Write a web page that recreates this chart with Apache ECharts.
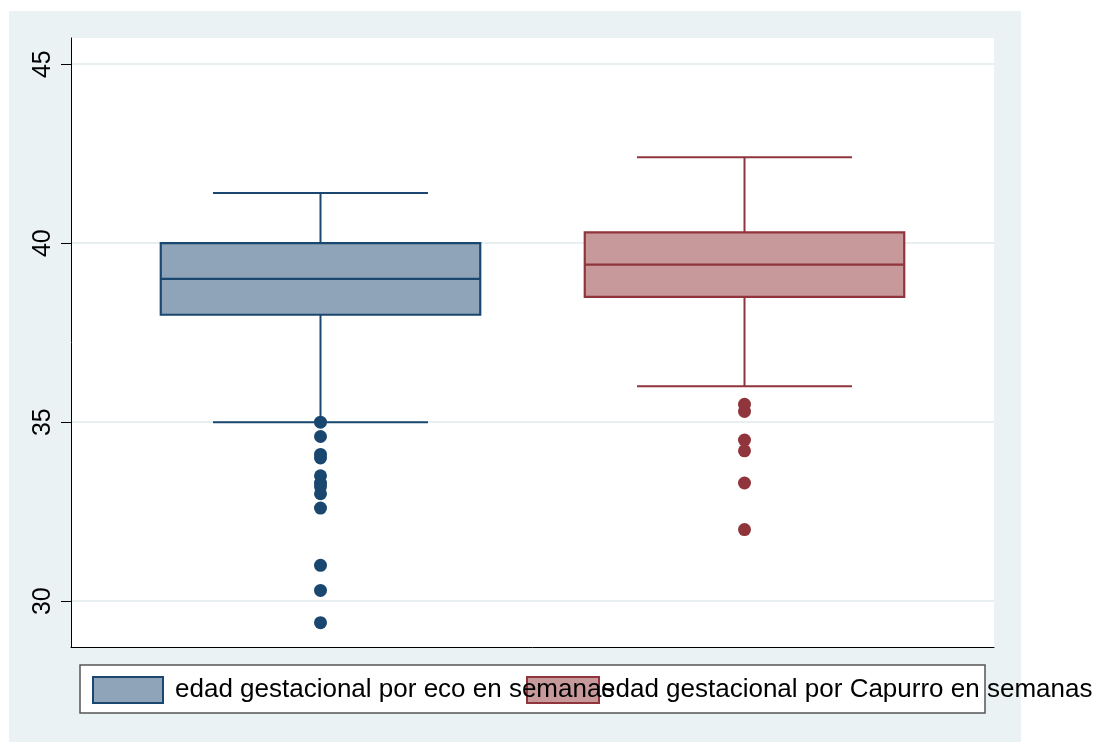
<!DOCTYPE html>
<html>
<head>
<meta charset="utf-8">
<script src="https://cdn.jsdelivr.net/npm/echarts@6/dist/echarts.min.js"></script>
<style>
  html, body { margin: 0; padding: 0; background: #ffffff; }
  #wrap { position: relative; width: 1108px; height: 743px; overflow: hidden; }
  #tint { position: absolute; left: 9px; top: 11px; width: 1012px; height: 731px; background: #eaf2f3; }
  #chart { position: absolute; left: 0; top: 0; width: 1108px; height: 743px; }
</style>
</head>
<body>
<div id="wrap"><div id="tint"></div><div id="chart"></div></div>
<script>
// ---- data ----
const categories = ['eco', 'Capurro'];
const seriesNames = ['edad gestacional por eco en semanas', 'edad gestacional por Capurro en semanas'];
// [lower whisker, Q1, median, Q3, upper whisker]
const ecoBox = [35.0, 38.0, 39.0, 40.0, 41.4];
const capurroBox = [36.0, 38.5, 39.4, 40.3, 42.4];
const ecoOutliers = [35.0, 34.6, 34.1, 34.0, 33.5, 33.3, 33.2, 33.0, 32.6, 31.0, 30.3, 29.4];
const capurroOutliers = [35.5, 35.3, 34.5, 34.2, 33.3, 32.0];
const yTicks = [30, 35, 40, 45];

const yMin = 28.72, yMax = 45.73;
const navy = '#1a476f', navyFill = '#8fa4b8';
const maroon = '#90353b', maroonFill = '#c8999b';
const FONT = '"Liberation Sans", Arial, sans-serif';

function boxRender(params, api) {
  const idx = api.value(0);
  const lo = api.coord([idx, api.value(1)]);
  const q1 = api.coord([idx, api.value(2)]);
  const md = api.coord([idx, api.value(3)]);
  const q3 = api.coord([idx, api.value(4)]);
  const hi = api.coord([idx, api.value(5)]);
  const band = api.size([1, 0])[0];
  const bw = band * 0.7535, cw = band * 0.507;
  const x = md[0];
  const st = api.style();
  const stroke = st.stroke, fill = st.fill;
  const ls = { stroke: stroke, lineWidth: 2 };
  return {
    type: 'group',
    children: [
      { type: 'line', shape: { x1: x, y1: q3[1], x2: x, y2: hi[1] }, style: ls },
      { type: 'line', shape: { x1: x, y1: q1[1], x2: x, y2: lo[1] }, style: ls },
      { type: 'line', shape: { x1: x - cw / 2, y1: hi[1], x2: x + cw / 2, y2: hi[1] }, style: ls },
      { type: 'line', shape: { x1: x - cw / 2, y1: lo[1], x2: x + cw / 2, y2: lo[1] }, style: ls },
      { type: 'rect', shape: { x: x - bw / 2, y: q3[1], width: bw, height: q1[1] - q3[1] },
        style: { fill: fill, stroke: stroke, lineWidth: 2.2 } },
      { type: 'line', shape: { x1: x - bw / 2, y1: md[1], x2: x + bw / 2, y2: md[1] }, style: { stroke: stroke, lineWidth: 2.2 } }
    ]
  };
}

const chart = echarts.init(document.getElementById('chart'), null, { renderer: 'canvas' });
const option = {
  backgroundColor: 'transparent',
  animation: false,
  textStyle: { fontFamily: FONT },
  grid: [
    { left: 71, right: 114, top: 38, bottom: 96, show: true, backgroundColor: '#ffffff', borderWidth: 0 },
    { left: 108.5, right: 151.5, top: 38, bottom: 96 }
  ],
  xAxis: [
    { gridIndex: 0, type: 'value', min: 0, max: 1,
      axisLine: { show: true, onZero: false, lineStyle: { color: '#000', width: 1 } },
      axisTick: { show: false }, axisLabel: { show: false }, splitLine: { show: false } },
    { gridIndex: 1, type: 'category', data: categories, show: false,
      axisLine: { show: false }, axisTick: { show: false }, axisLabel: { show: false } }
  ],
  yAxis: [
    { gridIndex: 0, type: 'value', min: yMin, max: yMax,
      axisLine: { show: true, lineStyle: { color: '#000', width: 1 } },
      axisTick: { show: true, length: 10, customValues: yTicks, lineStyle: { color: '#000', width: 1 } },
      axisLabel: { show: true, customValues: yTicks, rotate: 90, margin: 15, color: '#000', fontSize: 25, fontFamily: FONT,
        formatter: function (v) { return yTicks.indexOf(v) >= 0 ? String(v) : ''; } },
      splitLine: { show: true, lineStyle: { color: '#e8eff1', width: 2 } } },
    { gridIndex: 1, type: 'value', min: yMin, max: yMax, show: false,
      axisLine: { show: false }, axisTick: { show: false }, axisLabel: { show: false }, splitLine: { show: false } }
  ],
  legend: [
    { left: 92, top: 676, padding: 0, itemWidth: 70, itemHeight: 26, icon: 'rect', z: 7,
      textStyle: { fontSize: 26, color: '#000', fontFamily: FONT, padding: [0, 0, 0, 7] },
      data: [{ name: seriesNames[0], itemStyle: { color: navyFill, borderColor: navy, borderWidth: 2 } }] },
    { left: 526, top: 676, padding: 0, itemWidth: 72, itemHeight: 26, icon: 'rect', z: 5,
      textStyle: { fontSize: 26, color: '#000', fontFamily: FONT, padding: [0, 0, 0, -3] },
      data: [{ name: seriesNames[1], itemStyle: { color: maroonFill, borderColor: maroon, borderWidth: 2 } }] }
  ],
  graphic: [
    { type: 'rect', z: 1, shape: { x: 80, y: 665, width: 905, height: 48 },
      style: { fill: '#ffffff', stroke: '#555555', lineWidth: 1.5 } }
  ],
  series: [
    { name: seriesNames[0], type: 'custom', xAxisIndex: 1, yAxisIndex: 1,
      itemStyle: { color: navyFill, borderColor: navy },
      encode: { x: 0, y: [1, 2, 3, 4, 5] },
      data: [[0].concat(ecoBox)], renderItem: boxRender, z: 3 },
    { name: seriesNames[1], type: 'custom', xAxisIndex: 1, yAxisIndex: 1,
      itemStyle: { color: maroonFill, borderColor: maroon },
      encode: { x: 0, y: [1, 2, 3, 4, 5] },
      data: [[1].concat(capurroBox)], renderItem: boxRender, z: 3 },
    { name: 'out-eco', type: 'scatter', xAxisIndex: 1, yAxisIndex: 1, symbol: 'circle', symbolSize: 13,
      itemStyle: { color: navy, opacity: 1 }, z: 4,
      data: ecoOutliers.map(v => [categories[0], v]) },
    { name: 'out-capurro', type: 'scatter', xAxisIndex: 1, yAxisIndex: 1, symbol: 'circle', symbolSize: 13,
      itemStyle: { color: maroon, opacity: 1 }, z: 4,
      data: capurroOutliers.map(v => [categories[1], v]) }
  ]
};
chart.setOption(option);
</script>
</body>
</html>
